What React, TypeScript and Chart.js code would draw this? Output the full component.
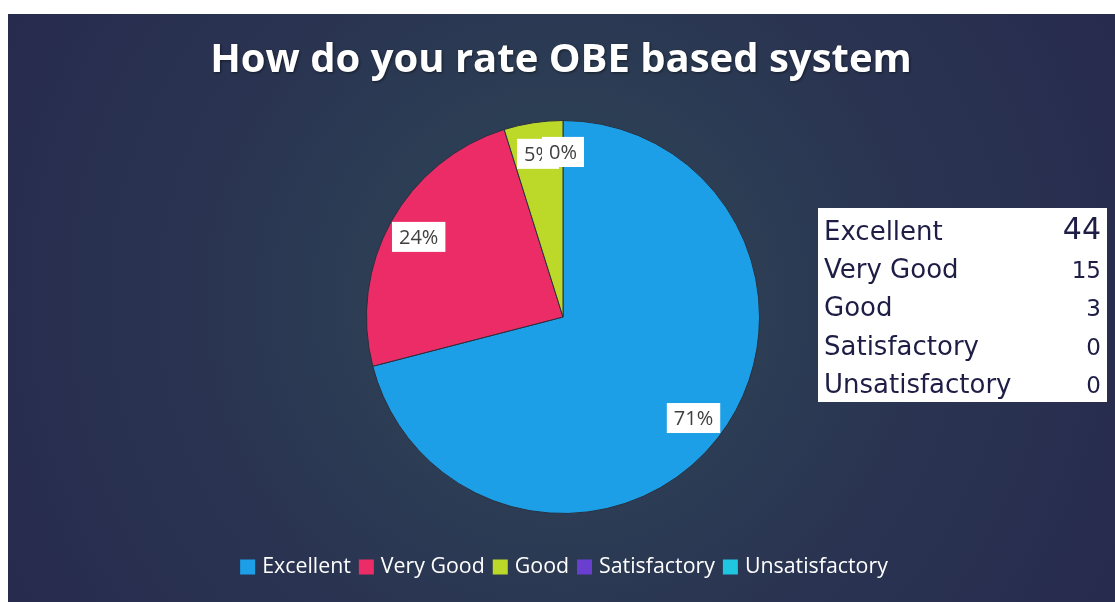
import React, { useEffect, useRef } from "react";
import { Chart, registerables } from "chart.js";

Chart.register(...registerables);

const TITLE = "How do you rate OBE based system";
const categories = ["Excellent", "Very Good", "Good", "Satisfactory", "Unsatisfactory"];
const counts = [44, 15, 3, 0, 0];
const colors = ["#1c9fe6", "#ec2c66", "#bcd92a", "#6a3fcf", "#1fc6df"];

const bgPlugin = {
  id: "bgPlugin",
  beforeDraw(chart: any) {
    const ctx = chart.ctx;
    ctx.save();
    ctx.fillStyle = "#ffffff";
    ctx.fillRect(0, 0, chart.width, chart.height);
    const g = ctx.createRadialGradient(560, 300, 40, 560, 300, 650);
    g.addColorStop(0, "#2e4657");
    g.addColorStop(0.5, "#2a3552");
    g.addColorStop(1, "#272a4d");
    ctx.fillStyle = g;
    ctx.fillRect(8, 14, chart.width - 8, chart.height - 14);
    // title
    ctx.fillStyle = "#ffffff";
    let size = 38;
    ctx.font = `bold ${size}px 'Open Sans'`;
    const w = ctx.measureText(TITLE).width;
    size = (size * 702) / w;
    ctx.font = `bold ${size}px 'Open Sans'`;
    ctx.textAlign = "center";
    ctx.textBaseline = "alphabetic";
    ctx.shadowColor = "rgba(0,0,0,0.5)";
    ctx.shadowBlur = 3;
    ctx.shadowOffsetX = 1;
    ctx.shadowOffsetY = 1;
    ctx.fillText(TITLE, 561, 72);
    ctx.restore();
  },
};

const overlayPlugin = {
  id: "overlayPlugin",
  afterDatasetsDraw(chart: any) {
    const ctx = chart.ctx;
    const meta = chart.getDatasetMeta(0);
    const data = chart.data.datasets[0].data as number[];
    const total = data.reduce((a: number, b: number) => a + b, 0);
    ctx.save();
    // percentage labels
    ctx.font = "20px 'Open Sans'";
    ctx.textAlign = "center";
    ctx.textBaseline = "middle";
    meta.data.forEach((arc: any, i: number) => {
      const p = arc.getProps(["x", "y", "startAngle", "endAngle", "outerRadius"], true);
      const mid = (p.startAngle + p.endAngle) / 2;
      const r = p.outerRadius * 0.84;
      const x = p.x + Math.cos(mid) * r;
      const y = p.y + Math.sin(mid) * r;
      const txt = Math.round((data[i] / total) * 100) + "%";
      const tw = ctx.measureText(txt).width;
      const bw = tw + 14;
      const bh = 30;
      ctx.fillStyle = "#ffffff";
      ctx.fillRect(x - bw / 2, y - bh / 2, bw, bh);
      ctx.fillStyle = "#404040";
      ctx.fillText(txt, x, y + 1);
    });

    // data table
    ctx.fillStyle = "#ffffff";
    ctx.fillRect(818, 208, 289, 194);
    ctx.textBaseline = "alphabetic";
    categories.forEach((c, i) => {
      const by = 240 + i * 38.2;
      ctx.fillStyle = "#1d1d45";
      ctx.font = "26px 'DejaVu Sans'";
      ctx.textAlign = "left";
      ctx.fillText(c, 824, by);
      ctx.textAlign = "right";
      ctx.font = i === 0 ? "30px 'DejaVu Sans'" : "23px 'DejaVu Sans'";
      ctx.fillText(String(counts[i]), 1101, by - (i === 0 ? 1 : 0));
    });

    // legend
    const box = 15;
    const gapBT = 7;
    const gapItem = 8;
    let fs = 19;
    ctx.font = `${fs}px 'Open Sans'`;
    const fixedW = categories.length * (box + gapBT) + (categories.length - 1) * gapItem;
    const tw0 = categories.reduce((a, c) => a + ctx.measureText(c).width, 0);
    fs = (fs * (648 - fixedW)) / tw0;
    ctx.font = `${fs}px 'Open Sans'`;
    const widths = categories.map((c) => ctx.measureText(c).width);
    const totalW = widths.reduce((a, b) => a + b, 0) + fixedW;
    let lx = 564 - totalW / 2;
    const ly = 567;
    ctx.textAlign = "left";
    ctx.textBaseline = "middle";
    categories.forEach((c, i) => {
      ctx.fillStyle = colors[i];
      ctx.fillRect(lx, ly - box / 2, box, box);
      lx += box + gapBT;
      ctx.fillStyle = "#ffffff";
      ctx.fillText(c, lx, ly);
      lx += widths[i] + gapItem;
    });
    ctx.restore();
  },
};

export default function App() {
  const ref = useRef<HTMLCanvasElement | null>(null);
  useEffect(() => {
    if (!ref.current) return;
    const chart = new Chart(ref.current, {
      type: "pie",
      data: {
        labels: categories,
        datasets: [
          {
            data: counts,
            backgroundColor: colors,
            borderColor: "#2a2f3f",
            borderWidth: 1,
          },
        ],
      },
      options: {
        responsive: false,
        animation: false,
        layout: { padding: { left: 366, right: 355, top: 120, bottom: 88 } },
        plugins: {
          legend: { display: false },
          title: { display: false },
          tooltip: { enabled: false },
        },
      },
      plugins: [bgPlugin, overlayPlugin],
    });
    return () => chart.destroy();
  }, []);
  return (
    <div style={{ position: "fixed", left: 0, top: 0, width: 1115, height: 602 }}>
      <canvas ref={ref} width={1115} height={602} style={{ display: "block" }} />
    </div>
  );
}
